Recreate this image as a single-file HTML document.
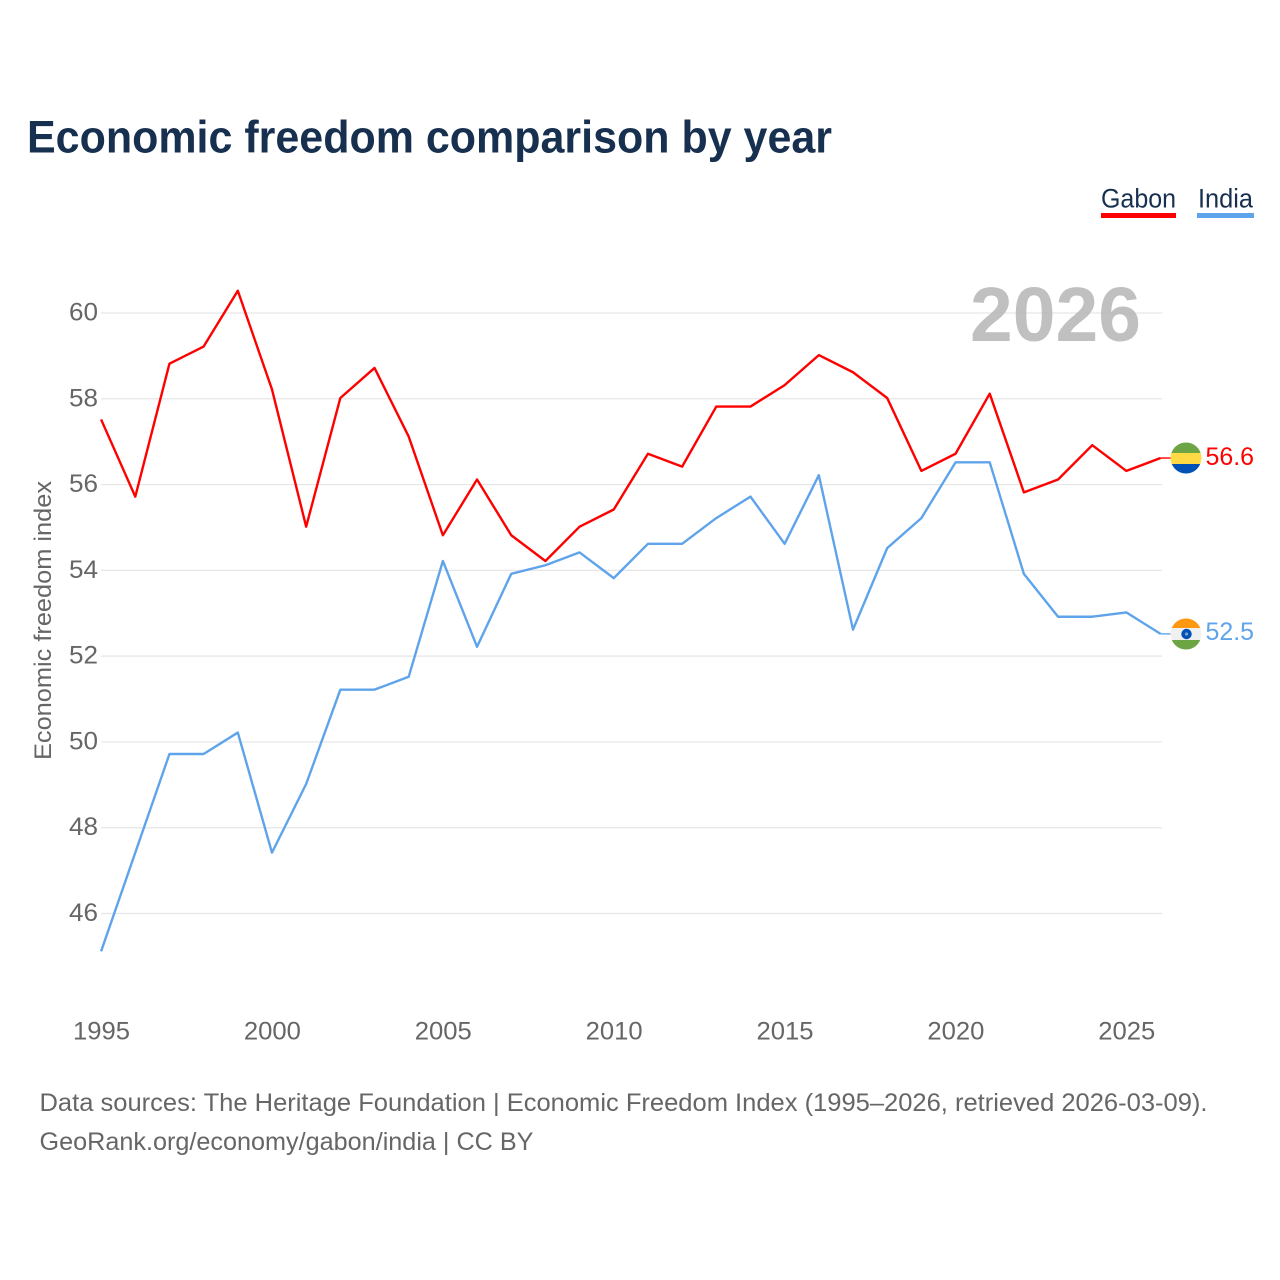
<!DOCTYPE html>
<html lang="en">
<head>
<meta charset="utf-8">
<title>Economic freedom comparison by year</title>
<style>
html,body{margin:0;padding:0;background:#fff;}
svg{display:block;}
text{font-family:"Liberation Sans",sans-serif;}
</style>
</head>
<body>
<svg id="chart" xmlns="http://www.w3.org/2000/svg" width="1280" height="1280" viewBox="0 0 1280 1280">
  <rect width="1280" height="1280" fill="#ffffff"/>
  <text x="27" y="152.5" font-size="45" font-weight="700" fill="#18304f" textLength="805" lengthAdjust="spacingAndGlyphs">Economic freedom comparison by year</text>

  <g>
    <text x="1101" y="207.5" font-size="27" fill="#18304f" textLength="75" lengthAdjust="spacingAndGlyphs">Gabon</text>
    <rect x="1101" y="213" width="75" height="5" fill="#ff0000"/>
  </g>
  <g>
    <text x="1198" y="207.5" font-size="27" fill="#18304f" textLength="55" lengthAdjust="spacingAndGlyphs">India</text>
    <rect x="1197" y="213" width="57" height="5" fill="#5fa4ea"/>
  </g>

  <g id="grid"></g>
  <text x="970" y="341" font-size="77" font-weight="700" fill="#b5b5b5" fill-opacity="0.85" textLength="171" lengthAdjust="spacingAndGlyphs">2026</text>
  <g id="yticks"></g>
  <g id="xticks"></g>
  <text transform="translate(51,760) rotate(-90)" x="0" y="0" font-size="24" fill="#666666" textLength="279" lengthAdjust="spacingAndGlyphs">Economic freedom index</text>
  <g id="series" transform="translate(-0.4,-0.8)"></g>

  <g>
    <clipPath id="clip-gabon"><circle cx="1186" cy="458" r="15.5"/></clipPath>
    <g clip-path="url(#clip-gabon)">
      <rect x="1170" y="442" width="32" height="11" fill="#6da544"/>
      <rect x="1170" y="453" width="32" height="11" fill="#ffda44"/>
      <rect x="1170" y="464" width="32" height="11" fill="#0052b4"/>
    </g>
  </g>
  <g>
    <clipPath id="clip-india"><circle cx="1186" cy="634" r="15.5"/></clipPath>
    <g clip-path="url(#clip-india)">
      <rect x="1170" y="618" width="32" height="11" fill="#ff9811"/>
      <rect x="1170" y="628" width="32" height="12" fill="#f0f0f0"/>
      <rect x="1170" y="640" width="32" height="11" fill="#6da544"/>
      <circle cx="1186.5" cy="634" r="5.2" fill="#0052b4"/>
      <circle cx="1186.5" cy="634" r="1.6" fill="#7f9fd0"/>
    </g>
  </g>
  <text x="1205.5" y="465" font-size="25" fill="#ff0000" textLength="48.5" lengthAdjust="spacingAndGlyphs">56.6</text>
  <text x="1205.5" y="640" font-size="25" fill="#5fa4ea" textLength="48.5" lengthAdjust="spacingAndGlyphs">52.5</text>

  <text x="39.5" y="1111" font-size="25" fill="#666666" textLength="1168" lengthAdjust="spacingAndGlyphs">Data sources: The Heritage Foundation | Economic Freedom Index (1995–2026, retrieved 2026-03-09).</text>
  <text x="39.5" y="1150" font-size="25" fill="#666666" textLength="494" lengthAdjust="spacingAndGlyphs">GeoRank.org/economy/gabon/india | CC BY</text>
</svg>
<script>
const years = [1995,1996,1997,1998,1999,2000,2001,2002,2003,2004,2005,2006,2007,2008,2009,2010,2011,2012,2013,2014,2015,2016,2017,2018,2019,2020,2021,2022,2023,2024,2025,2026];
const gabonValues = [57.5,55.7,58.8,59.2,60.5,58.2,55,58,58.7,57.1,54.8,56.1,54.8,54.2,55,55.4,56.7,56.4,57.8,57.8,58.3,59,58.6,58,56.3,56.7,58.1,55.8,56.1,56.9,56.3,56.6];
const indiaValues = [45.1,47.4,49.7,49.7,50.2,47.4,49,51.2,51.2,51.5,54.2,52.2,53.9,54.1,54.4,53.8,54.6,54.6,55.2,55.7,54.6,56.2,52.6,54.5,55.2,56.5,56.5,53.9,52.9,52.9,53,52.5];
const yTickValues = [46,48,50,52,54,56,58,60];
const xTickValues = [1995,2000,2005,2010,2015,2020,2025];

const NS = 'http://www.w3.org/2000/svg';
function xScale(year){ return 101.5 + (year - 1995) * (1161 - 101.5) / 31; }
function yScale(v){ return 313 + (60 - v) * (913.5 - 313) / 14; }

const gridGroup = document.getElementById('grid');
const yGroup = document.getElementById('yticks');
const xGroup = document.getElementById('xticks');
const seriesGroup = document.getElementById('series');

yTickValues.forEach(function(v){
  const line = document.createElementNS(NS, 'line');
  
  
  line.setAttribute('x1', 101);
  line.setAttribute('x2', 1162);
  line.setAttribute('y1', yScale(v));
  line.setAttribute('y2', yScale(v));
  line.setAttribute('stroke', '#e6e6e6');
  line.setAttribute('stroke-width', '1.2');
  gridGroup.appendChild(line);

  const label = document.createElementNS(NS, 'text');
  
  
  label.setAttribute('x', 69);
  label.setAttribute('y', yScale(v) + 7.5);
  label.setAttribute('font-size', '25');
  label.setAttribute('textLength', '29');
  label.setAttribute('lengthAdjust', 'spacingAndGlyphs');
  label.setAttribute('fill', '#666666');
  label.textContent = v;
  yGroup.appendChild(label);
});

xTickValues.forEach(function(year){
  const label = document.createElementNS(NS, 'text');
  
  
  label.setAttribute('x', xScale(year) - 28.5);
  label.setAttribute('y', 1039.5);
  label.setAttribute('font-size', '25');
  label.setAttribute('textLength', '57');
  label.setAttribute('lengthAdjust', 'spacingAndGlyphs');
  label.setAttribute('fill', '#666666');
  label.textContent = year;
  xGroup.appendChild(label);
});

function drawSeries(name, values, color){
  const path = document.createElementNS(NS, 'path');
  
  
  path.setAttribute('d', values.map(function(v, i){
    return (i ? 'L' : 'M') + xScale(years[i]).toFixed(2) + ' ' + yScale(v).toFixed(2);
  }).join(' '));
  path.setAttribute('fill', 'none');
  path.setAttribute('stroke', color);
  path.setAttribute('stroke-width', '2.4');
  path.setAttribute('stroke-linejoin', 'round');
  seriesGroup.appendChild(path);

  const last = values[values.length - 1];
  const connector = document.createElementNS(NS, 'line');
  
  
  connector.setAttribute('x1', xScale(years[years.length - 1]));
  connector.setAttribute('x2', 1172);
  connector.setAttribute('y1', yScale(last));
  connector.setAttribute('y2', yScale(last));
  connector.setAttribute('stroke', color);
  connector.setAttribute('stroke-width', '1.4');
  seriesGroup.appendChild(connector);
}
drawSeries('gabon', gabonValues, '#ff0000');
drawSeries('india', indiaValues, '#5fa4ea');
</script>
</body>
</html>
